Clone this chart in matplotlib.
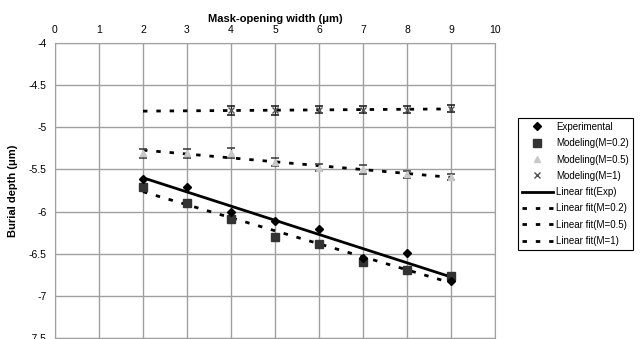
import numpy as np
import matplotlib.pyplot as plt

plt.rcParams["font.family"] = ["Liberation Sans", "DejaVu Sans"]

# values
width = [2, 3, 4, 5, 6, 7, 8, 9]
exp_depth = [-5.61, -5.71, -6.00, -6.11, -6.21, -6.55, -6.49, -6.82]
m02_depth = [-5.71, -5.90, -6.09, -6.30, -6.38, -6.60, -6.69, -6.77]
m05_depth = [-5.31, -5.31, -5.30, -5.41, -5.48, -5.50, -5.56, -5.59]
m05_err = [0.05, 0.05, 0.06, 0.05, 0.04, 0.05, 0.04, 0.04]
m1_width = [4, 5, 6, 7, 8, 9]
m1_depth = [-4.80, -4.80, -4.79, -4.79, -4.79, -4.78]
m1_err = [0.05, 0.05, 0.04, 0.04, 0.04, 0.04]

fig = plt.figure(figsize=(6.41, 3.39), dpi=100)
ax = fig.add_axes([55 / 641, 1 / 339, 440 / 641, 295 / 339])

xs = np.array(width, dtype=float)
dash = (0, (1.6, 3.2))

# linear fits (evaluated over the full measured range)
fit_exp = np.polyval(np.polyfit(width, exp_depth, 1), xs)
fit_m02 = np.polyval(np.polyfit(width, m02_depth, 1), xs)
fit_m05 = np.polyval(np.polyfit(width, m05_depth, 1), xs)
fit_m1 = np.polyval(np.polyfit(m1_width, m1_depth, 1), xs)

h_exp, = ax.plot(width, exp_depth, "D", color="black", ms=4.5, ls="none", label="Experimental", zorder=5)
h_m02, = ax.plot(width, m02_depth, "s", color="#333333", ms=6, ls="none", label="Modeling(M=0.2)", zorder=4)
ax.errorbar(width, m05_depth, yerr=m05_err, fmt="none", ecolor="#444444", elinewidth=0.8, capsize=3, capthick=1.2, zorder=4)
h_m05, = ax.plot(width, m05_depth, "^", color="#c8c8c8", ms=5, ls="none", label="Modeling(M=0.5)", zorder=5)
ax.errorbar(m1_width, m1_depth, yerr=m1_err, fmt="none", ecolor="#222222", elinewidth=0.8, capsize=3, capthick=1.2, zorder=4)
h_m1, = ax.plot(m1_width, m1_depth, "x", color="#555555", ms=4, mew=1, ls="none", label="Modeling(M=1)", zorder=5)

h_fexp, = ax.plot(xs, fit_exp, color="black", lw=2, label="Linear fit(Exp)", zorder=3)
h_f02, = ax.plot(xs, fit_m02, color="black", lw=2, ls=dash, label="Linear fit(M=0.2)", zorder=3)
h_f05, = ax.plot(xs, fit_m05, color="black", lw=2, ls=dash, label="Linear fit(M=0.5)", zorder=3)
h_f1, = ax.plot(xs, fit_m1, color="black", lw=2, ls=dash, label="Linear fit(M=1)", zorder=3)

ax.set_xlim(0, 10)
ax.set_ylim(-7.5, -4)
ax.set_xticks(range(0, 11))
ax.set_yticks(np.arange(-7.5, -3.9, 0.5))
ax.set_yticklabels(["-7.5", "-7", "-6.5", "-6", "-5.5", "-5", "-4.5", "-4"])
ax.xaxis.tick_top()
ax.xaxis.set_label_position("top")
ax.tick_params(length=0, labelsize=7.5, pad=6)
ax.grid(True, color="#a0a0a0", lw=1)
ax.set_axisbelow(True)
for s in ax.spines.values():
    s.set_color("#a0a0a0")

ax.set_xlabel("Mask-opening width (\u03bcm)", fontsize=8, fontweight="bold", labelpad=2)
ax.set_ylabel("Burial depth (\u03bcm)", fontsize=8, fontweight="bold", labelpad=8)

handles = [h_exp, h_m02, h_m05, h_m1, h_fexp, h_f02, h_f05, h_f1]
leg = fig.legend(handles=handles, loc="upper left", bbox_to_anchor=(518 / 641, 1 - 118 / 339),
                 fontsize=7, frameon=True, fancybox=False, edgecolor="black", framealpha=1,
                 handlelength=3.2, handletextpad=0.3, labelspacing=0.65, borderpad=0.4,
                 borderaxespad=0)
leg.get_frame().set_linewidth(0.8)

fig.savefig("out.png", dpi=100)
